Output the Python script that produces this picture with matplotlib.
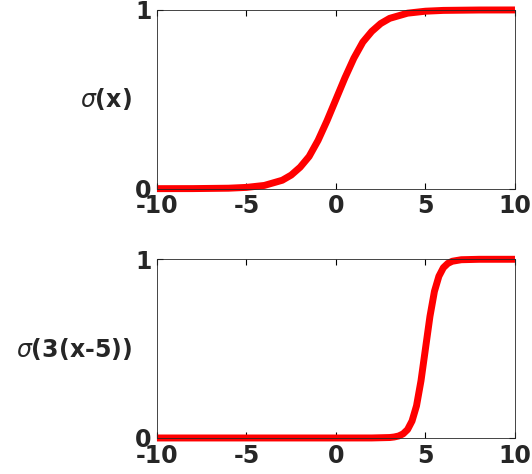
import matplotlib
matplotlib.use('Agg')
import matplotlib.pyplot as plt

plt.rcParams['axes.unicode_minus'] = False

# Values.
x_top = [-10, -8, -6, -5, -4, -3, -2.5, -2, -1.5, -1, -0.5, 0, 0.5, 1, 1.5, 2, 2.5, 3, 4, 5, 6, 8, 10]
y_top = [0.0, 0.0003, 0.0025, 0.007, 0.018, 0.047, 0.076, 0.12, 0.18, 0.27, 0.38, 0.5,
         0.62, 0.73, 0.82, 0.88, 0.924, 0.953, 0.982, 0.993, 0.9975, 0.9997, 1.0]
x_bot = [-10, 0, 2, 3, 3.25, 3.5, 3.75, 4, 4.25, 4.5, 4.75, 5, 5.25, 5.5, 5.75, 6, 6.25, 6.5, 7, 8, 10]
y_bot = [0.0, 0.0, 0.0001, 0.0025, 0.0055, 0.011, 0.023, 0.047, 0.095, 0.18, 0.32, 0.5,
         0.68, 0.82, 0.905, 0.953, 0.977, 0.989, 0.9975, 0.9999, 1.0]
labels = [r'$\sigma$(x)', r'$\sigma$(3(x-5))']

fig = plt.figure(figsize=(5.32, 4.74), dpi=100)
axes = [fig.add_axes([0.295, 0.602, 0.673, 0.377]),
        fig.add_axes([0.295, 0.076, 0.673, 0.377])]
for ax, xs, ys, lab in zip(axes, [x_top, x_bot], [y_top, y_bot], labels):
    ax.plot(xs, ys, color='red', linewidth=5, solid_capstyle='butt', clip_on=False)
    ax.set_xlim(-10, 10)
    ax.set_ylim(0, 1)
    ax.set_xticks([-10, -5, 0, 5, 10])
    ax.set_yticks([0, 1])
    ax.tick_params(direction='in', top=True, right=True, labelsize=17, length=4, pad=4)
    for t in ax.get_xticklabels() + ax.get_yticklabels():
        t.set_fontweight('bold')
        t.set_color('#262626')
    for s in ax.spines.values():
        s.set_linewidth(0.6)
        s.set_color('#262626')
    ax.set_ylabel(lab, rotation=0, fontsize=17, fontweight='bold', color='#262626',
                  ha='right', va='center', labelpad=2)

fig.savefig('out.png')
